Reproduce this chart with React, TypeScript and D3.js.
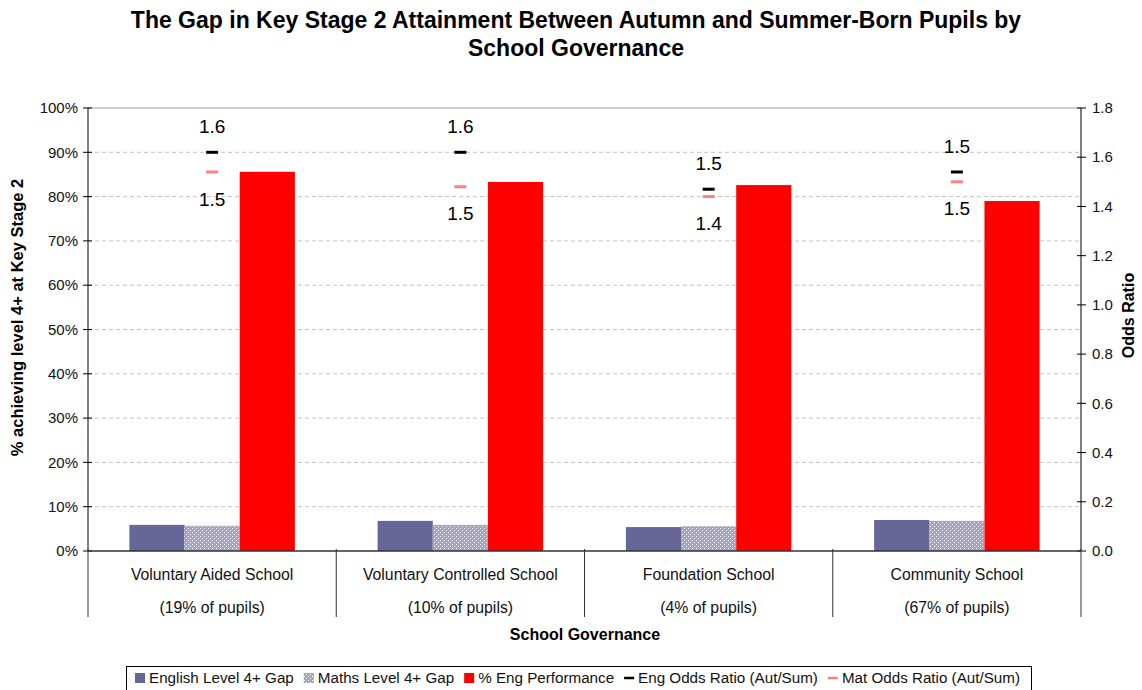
import React, { useEffect, useRef } from 'react';
import * as d3 from 'd3';

const categories = ['Voluntary Aided School', 'Voluntary Controlled School', 'Foundation School', 'Community School'];
const shares = ['(19% of pupils)', '(10% of pupils)', '(4% of pupils)', '(67% of pupils)'];
const engGap = [5.9, 6.8, 5.4, 7.0];
const mathsGap = [5.7, 5.9, 5.6, 6.8];
const engPerf = [85.6, 83.3, 82.6, 79.0];
const engOdds = [1.62, 1.62, 1.47, 1.54];
const matOdds = [1.54, 1.48, 1.44, 1.5];
const leftTicks = [0, 10, 20, 30, 40, 50, 60, 70, 80, 90, 100];
const rightTicks = [0, 0.2, 0.4, 0.6, 0.8, 1.0, 1.2, 1.4, 1.6, 1.8];

const FONT = '"Liberation Sans", Arial, sans-serif';

export default function App() {
  const svgRef = useRef<SVGSVGElement>(null);

  useEffect(() => {
    const svg = d3.select(svgRef.current);
    svg.selectAll('*').remove();

    const width = 1142;
    const height = 690;
    const left = 88, right = 1081, top = 108, bottom = 551;

    svg.attr('width', width).attr('height', height).style('font-family', FONT);

    // checker pattern for the maths series
    const pat = svg.append('defs').append('pattern')
      .attr('id', 'maths').attr('width', 4).attr('height', 4)
      .attr('patternUnits', 'userSpaceOnUse');
    pat.append('rect').attr('width', 4).attr('height', 4).attr('fill', '#a3a3c8');
    pat.append('rect').attr('x', 0).attr('y', 0).attr('width', 1).attr('height', 1).attr('fill', '#ffffff');
    pat.append('rect').attr('x', 2).attr('y', 2).attr('width', 1).attr('height', 1).attr('fill', '#ffffff');

    const x0 = d3.scaleBand().domain(categories).range([left, right]).padding(0);
    const keys = ['eng', 'maths', 'perf'];
    const x1 = d3.scaleBand().domain(keys).range([0, x0.bandwidth()]).paddingInner(0).paddingOuter(0.75);
    const y = d3.scaleLinear().domain([0, 100]).range([bottom, top]);
    const yR = d3.scaleLinear().domain([0, 1.8]).range([bottom, top]);

    // title
    const title = svg.append('text')
      .attr('text-anchor', 'middle').attr('font-weight', 'bold').attr('font-size', 23);
    title.append('tspan').attr('x', 576).attr('y', 28).text('The Gap in Key Stage 2 Attainment Between Autumn and Summer-Born Pupils by');
    title.append('tspan').attr('x', 576).attr('y', 56).text('School Governance');

    // gridlines
    svg.append('g').selectAll('line')
      .data(leftTicks.filter(t => t > 0 && t < 100))
      .enter().append('line')
      .attr('x1', left).attr('x2', right)
      .attr('y1', d => y(d)).attr('y2', d => y(d))
      .attr('stroke', '#c4c4c4').attr('stroke-dasharray', '4,3');
    svg.append('line').attr('x1', left).attr('x2', right).attr('y1', y(100)).attr('y2', y(100))
      .attr('stroke', '#9a9a9a');

    // bars
    const series: [string, number[], string][] = [
      ['eng', engGap, '#666699'],
      ['maths', mathsGap, 'url(#maths)'],
      ['perf', engPerf, '#ff0000'],
    ];
    series.forEach(([key, vals, fill]) => {
      svg.append('g').selectAll('rect')
        .data(vals)
        .enter().append('rect')
        .attr('x', (d, i) => (x0(categories[i]) as number) + (x1(key) as number))
        .attr('width', x1.bandwidth())
        .attr('y', d => y(d))
        .attr('height', d => bottom - y(d))
        .attr('fill', fill);
    });

    // left axis
    const la = svg.append('g');
    la.append('line').attr('x1', left).attr('x2', left).attr('y1', top).attr('y2', bottom).attr('stroke', '#000');
    la.selectAll('.t').data(leftTicks).enter().append('line')
      .attr('x1', left - 5).attr('x2', left + 4).attr('y1', d => y(d)).attr('y2', d => y(d)).attr('stroke', '#000');
    la.selectAll('text').data(leftTicks).enter().append('text')
      .attr('x', left - 10).attr('y', d => y(d)).attr('dy', '0.35em')
      .attr('text-anchor', 'end').attr('font-size', 15).attr('fill', '#111')
      .text(d => `${d}%`);

    // right axis
    const ra = svg.append('g');
    ra.append('line').attr('x1', right).attr('x2', right).attr('y1', top).attr('y2', bottom).attr('stroke', '#000');
    ra.selectAll('.t').data(rightTicks).enter().append('line')
      .attr('x1', right - 4).attr('x2', right + 5).attr('y1', d => yR(d)).attr('y2', d => yR(d)).attr('stroke', '#000');
    ra.selectAll('text').data(rightTicks).enter().append('text')
      .attr('x', right + 11).attr('y', d => yR(d)).attr('dy', '0.35em')
      .attr('text-anchor', 'start').attr('font-size', 15).attr('fill', '#111')
      .text(d => d3.format('.1f')(d));

    // category axis
    const ca = svg.append('g');
    ca.append('line').attr('x1', left).attr('x2', right).attr('y1', bottom).attr('y2', bottom).attr('stroke', '#333').attr('stroke-width', 1.5);
    const edges = categories.map(c => x0(c) as number).concat([right]);
    ca.selectAll('.sep').data(edges).enter().append('line')
      .attr('x1', d => d).attr('x2', d => d).attr('y1', bottom - 2).attr('y2', 617)
      .attr('stroke', '#333');
    ca.selectAll('.name').data(categories).enter().append('text')
      .attr('x', d => (x0(d) as number) + x0.bandwidth() / 2).attr('y', 580)
      .attr('text-anchor', 'middle').attr('font-size', 15.8).attr('fill', '#111')
      .text(d => d);
    ca.selectAll('.share').data(shares).enter().append('text')
      .attr('x', (d, i) => (x0(categories[i]) as number) + x0.bandwidth() / 2).attr('y', 613)
      .attr('text-anchor', 'middle').attr('font-size', 15.8).attr('fill', '#111')
      .text(d => d);

    // axis titles
    svg.append('text').attr('x', 585).attr('y', 640).attr('text-anchor', 'middle')
      .attr('font-weight', 'bold').attr('font-size', 16).text('School Governance');
    svg.append('text').attr('transform', `translate(23,${(top + bottom) / 2 - 12}) rotate(-90)`)
      .attr('text-anchor', 'middle').attr('font-weight', 'bold').attr('font-size', 16.5)
      .text('% achieving level 4+ at Key Stage 2');
    svg.append('text').attr('transform', `translate(1134,${(top + bottom) / 2 - 14}) rotate(-90)`)
      .attr('text-anchor', 'middle').attr('font-weight', 'bold').attr('font-size', 16)
      .text('Odds Ratio');

    // odds ratio markers and labels
    const cx = (i: number) => (x0(categories[i]) as number) + x0.bandwidth() / 2;
    const fmt = d3.format('.1f');
    const odds: [number[], string, number][] = [[engOdds, '#000000', -26], [matOdds, '#ff8080', 27]];
    odds.forEach(([vals, color, off]) => {
      const g = svg.append('g');
      g.selectAll('line').data(vals).enter().append('line')
        .attr('x1', (d, i) => cx(i) - 6).attr('x2', (d, i) => cx(i) + 6)
        .attr('y1', d => yR(d)).attr('y2', d => yR(d))
        .attr('stroke', color).attr('stroke-width', 3);
      g.selectAll('text').data(vals).enter().append('text')
        .attr('x', (d, i) => cx(i)).attr('y', d => yR(d) + off).attr('dy', '0.35em')
        .attr('text-anchor', 'middle').attr('font-size', 19).attr('fill', '#000')
        .text(d => fmt(d));
    });

    // legend: items laid out one after another
    const lg = svg.append('g');
    lg.append('rect').attr('x', 126.5).attr('y', 666.5).attr('width', 905).attr('height', 30)
      .attr('fill', '#fff').attr('stroke', '#000');
    const items = [
      { label: 'English Level 4+ Gap', fill: '#666699', type: 'box' },
      { label: 'Maths Level 4+ Gap', fill: 'url(#maths)', type: 'box' },
      { label: '% Eng Performance', fill: '#ff0000', type: 'box' },
      { label: 'Eng Odds Ratio (Aut/Sum)', fill: '#000000', type: 'line' },
      { label: 'Mat Odds Ratio (Aut/Sum)', fill: '#ff8080', type: 'line' },
    ];
    let lx = 135;
    items.forEach(it => {
      if (it.type === 'box') {
        lg.append('rect').attr('x', lx).attr('y', 673).attr('width', 10).attr('height', 10).attr('fill', it.fill);
      } else {
        lg.append('line').attr('x1', lx).attr('x2', lx + 10).attr('y1', 678).attr('y2', 678)
          .attr('stroke', it.fill).attr('stroke-width', 2.5);
      }
      const t = lg.append('text').attr('x', lx + 14).attr('y', 678).attr('dy', '0.35em')
        .attr('font-size', 15.2).attr('fill', '#111').text(it.label);
      const w = (t.node() as SVGTextElement).getComputedTextLength();
      lx += 14 + w + 10;
    });
  }, []);

  return <svg ref={svgRef} style={{ position: 'absolute', left: 0, top: 0 }}></svg>;
}
